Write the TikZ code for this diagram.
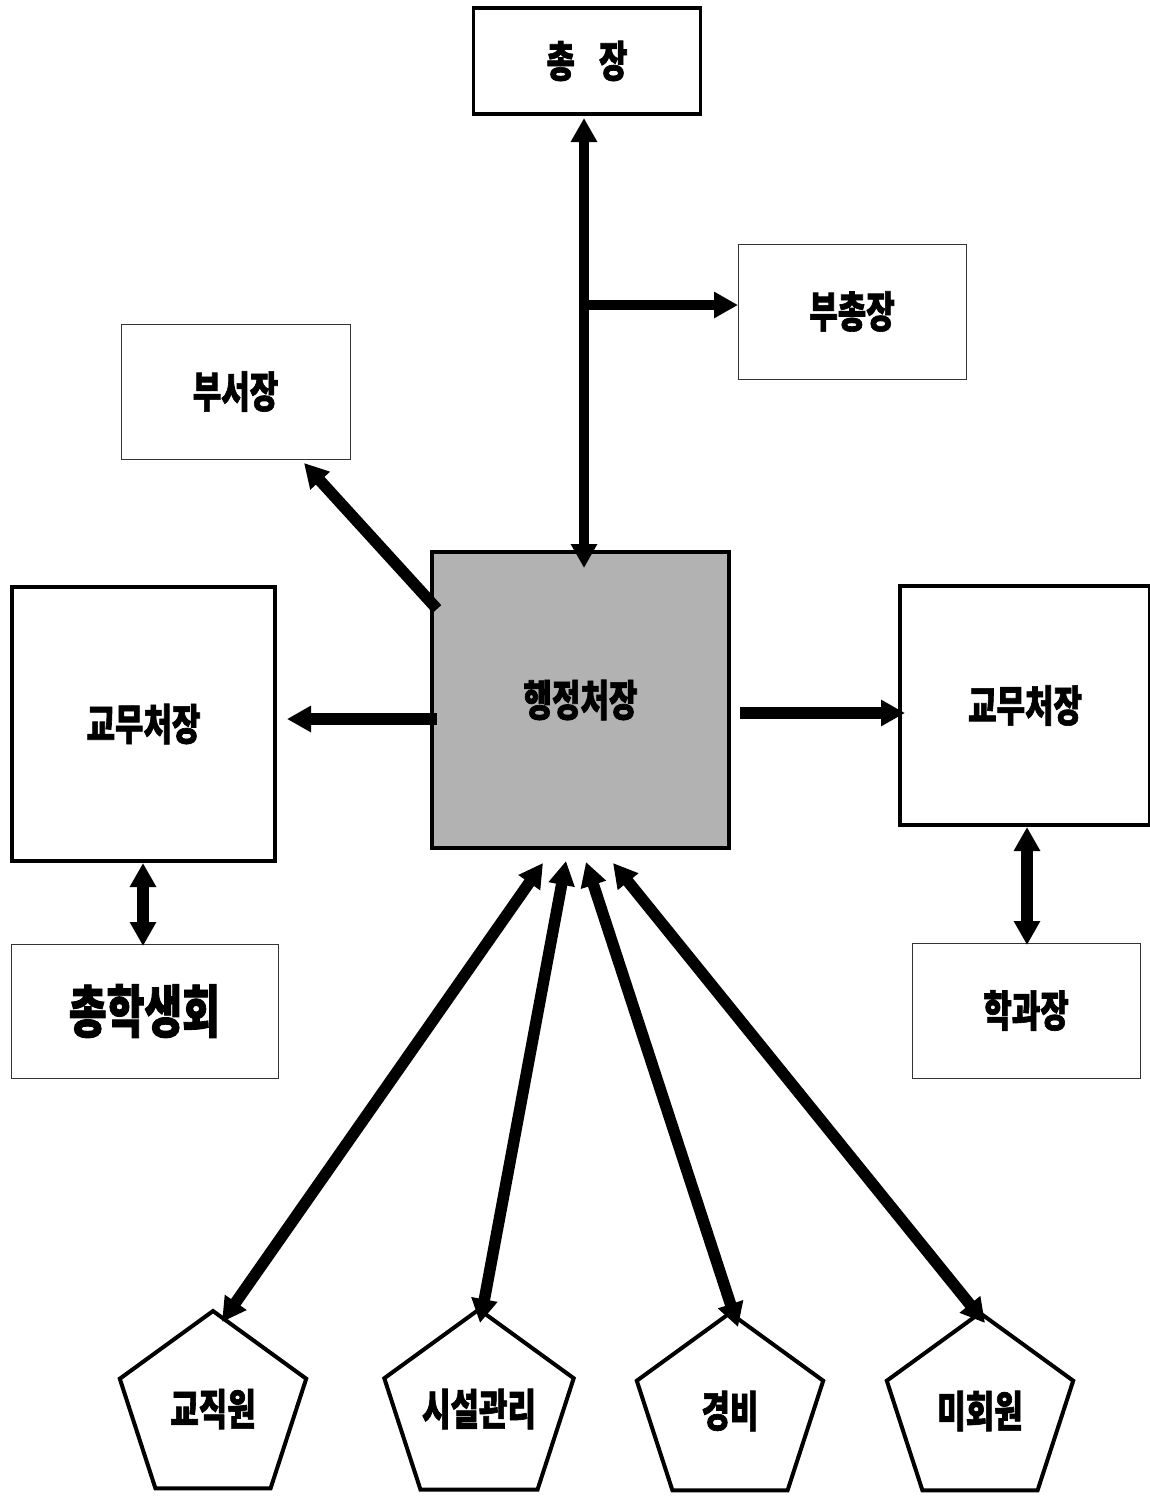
\documentclass[tikz,border=0pt]{standalone}
\usepackage{fontspec}
\newfontfamily\kr{Noto Sans CJK KR}[FakeStretch=0.72, BoldFeatures={FakeBold=1.5}]
\usetikzlibrary{arrows.meta,shapes.geometric}
\begin{document}
\begin{tikzpicture}[x=1pt,y=-1pt,
  thickbox/.style={draw=black,line width=3.5pt,inner sep=0pt},
  thinbox/.style={draw=black!80,line width=1pt,inner sep=0pt},
  lbl/.style={font=\kr\bfseries\fontsize{43}{50}\selectfont},
  biglbl/.style={font=\kr\bfseries\fontsize{57}{62}\selectfont},
  pent/.style={regular polygon,regular polygon sides=5,minimum size=196pt,draw=black,line width=4pt,inner sep=0pt},
  conn/.style={line width=10pt},
  dconn/.style={line width=11.5pt},
  arr/.style={-{Triangle[length=24pt,width=25pt]}},
  darr/.style={{Triangle[length=24pt,width=25pt]}-{Triangle[length=24pt,width=25pt]}}
]
\useasboundingbox (0,0) rectangle (1149,1497);
\fill[white] (0,0) rectangle (1149,1497);

% boxes
\node[thickbox,lbl,minimum width=227pt,minimum height=106pt] (zj) at (587,61) {{\spaceskip=24pt 총 장}};
\node[thinbox,lbl,minimum width=228pt,minimum height=135pt] (bcj) at (852,311.5) {부총장};
\node[thinbox,lbl,minimum width=229pt,minimum height=135pt] (bsj) at (235.5,391.5) {부서장};
\node[thickbox,lbl,fill=black!30,minimum width=297pt,minimum height=296pt] (hj) at (580.5,700) {행정처장};
\node[thickbox,lbl,minimum width=263pt,minimum height=274pt] (gmL) at (143.5,724) {교무처장};
\node[thickbox,lbl,minimum width=250pt,minimum height=239pt] (gmR) at (1025,705.5) {교무처장};
\node[thinbox,biglbl,minimum width=267pt,minimum height=134pt] (chs) at (144.5,1011) {총학생회};
\node[thinbox,lbl,minimum width=228pt,minimum height=135pt] (hgj) at (1026,1010.5) {학과장};

% pentagons
\node[pent,lbl] (p1) at (213,1409) {교직원};
\node[pent,lbl] (p2) at (479,1409) {시설관리};
\node[pent,lbl] (p3) at (730,1411) {경비};
\node[pent,lbl] (p4) at (980,1411) {미회원};

% connector end points
\coordinate (v1) at (584,118);
\coordinate (v2) at (584,568);
\coordinate (b0) at (584,305);
\coordinate (b1) at (738,305);
\coordinate (s0) at (437,609);
\coordinate (s1) at (304,463);
\coordinate (l0) at (437,719);
\coordinate (l1) at (287,719);
\coordinate (r0) at (740,713);
\coordinate (r1) at (905,713);
\coordinate (lv0) at (143,863);
\coordinate (lv1) at (143,946);
\coordinate (rv0) at (1027,827);
\coordinate (rv1) at (1027,945);
\coordinate (a1t) at (543,863);
\coordinate (a2t) at (566,861);
\coordinate (a3t) at (586,862);
\coordinate (a4t) at (613,863);
\coordinate (a1b) at (222,1322);
\coordinate (a2b) at (480,1323);
\coordinate (a3b) at (738,1327);
\coordinate (a4b) at (985,1323);

% connectors
\draw[conn,darr] (v1) -- (v2);
\draw[conn,arr] (b0) -- (b1);
\draw[dconn,arr] (s0) -- (s1);
\draw[dconn,arr] (l0) -- (l1);
\draw[dconn,arr] (r0) -- (r1);
\draw[dconn,darr] (lv0) -- (lv1);
\draw[dconn,darr] (rv0) -- (rv1);
\draw[dconn,darr] (a1b) -- (a1t);
\draw[dconn,darr] (a2b) -- (a2t);
\draw[dconn,darr] (a3b) -- (a3t);
\draw[dconn,darr] (a4b) -- (a4t);
\end{tikzpicture}
\end{document}
